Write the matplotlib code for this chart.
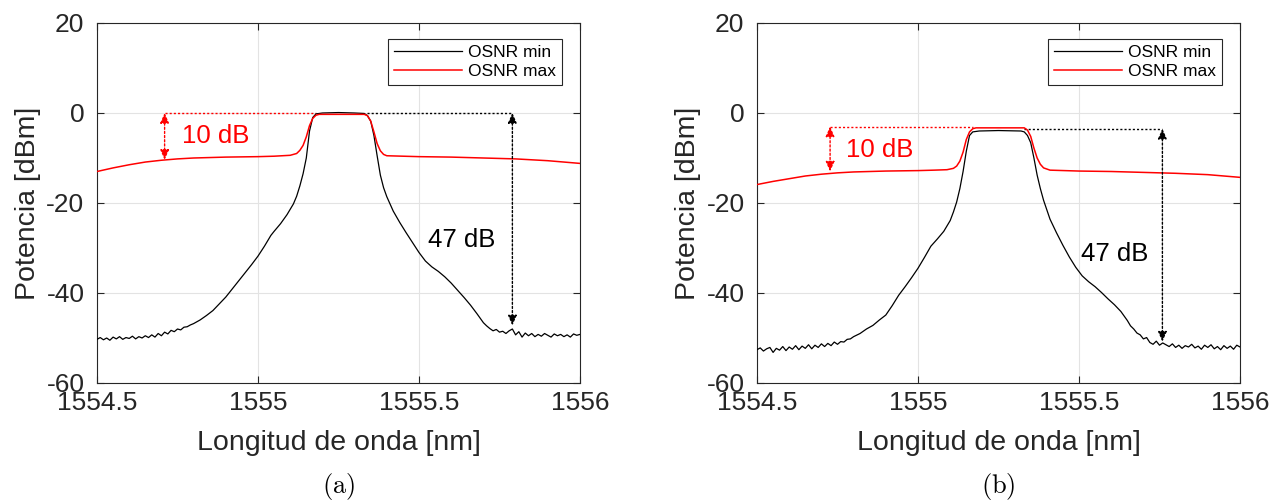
import matplotlib
matplotlib.use("Agg")
import matplotlib.pyplot as plt

plt.rcParams['font.family'] = ['Liberation Sans', 'DejaVu Sans']
plt.rcParams['mathtext.fontset'] = 'cm'
plt.rcParams['axes.unicode_minus'] = False

# ---- panel (a): OSNR min (black) ----
wl_a_min = [1554.50, 1554.51, 1554.52, 1554.53, 1554.54, 1554.55, 1554.56, 1554.57, 1554.58, 1554.59,
            1554.60, 1554.61, 1554.62, 1554.63, 1554.64, 1554.65, 1554.66, 1554.67, 1554.68, 1554.69,
            1554.70, 1554.71, 1554.72, 1554.73, 1554.74, 1554.75, 1554.76, 1554.77, 1554.78, 1554.79,
            1554.80, 1554.82, 1554.84, 1554.86, 1554.88, 1554.90, 1554.92, 1554.94, 1554.96, 1554.98,
            1555.00, 1555.02, 1555.04, 1555.05, 1555.07, 1555.09, 1555.11, 1555.12, 1555.13, 1555.14,
            1555.15, 1555.16, 1555.17, 1555.18, 1555.20, 1555.25, 1555.30, 1555.33, 1555.34, 1555.35,
            1555.36, 1555.37, 1555.38, 1555.39, 1555.40, 1555.42, 1555.44, 1555.46, 1555.48, 1555.50,
            1555.52, 1555.54, 1555.56, 1555.58, 1555.60, 1555.62, 1555.64, 1555.66, 1555.68, 1555.70,
            1555.71, 1555.72, 1555.73, 1555.74, 1555.75, 1555.76, 1555.77, 1555.78, 1555.79, 1555.80,
            1555.81, 1555.82, 1555.83, 1555.84, 1555.85, 1555.86, 1555.87, 1555.88, 1555.89, 1555.90,
            1555.91, 1555.92, 1555.93, 1555.94, 1555.95, 1555.96, 1555.97, 1555.98, 1555.99, 1556.00]
p_a_min = [-50.3, -49.9, -50.4, -50.0, -50.5, -49.8, -50.2, -49.7, -50.3, -49.9,
           -50.1, -49.6, -50.2, -49.7, -50.0, -49.5, -49.9, -49.3, -49.8, -49.0,
           -49.5, -48.7, -49.1, -48.3, -48.6, -48.0, -48.2, -47.6, -47.5, -47.1,
           -46.8, -46.0, -45.0, -43.9, -42.4, -40.9, -39.1, -37.3, -35.5, -33.7,
           -31.8, -29.6, -27.2, -26.3, -24.6, -22.6, -20.2, -18.5, -16.2, -13.5,
           -10.0, -4.0, -1.0, -0.2, 0.0, 0.1, 0.0, -0.1, -0.6, -1.8,
           -5.0, -9.5, -13.8, -16.6, -18.6, -21.8, -24.3, -26.6, -28.8, -31.0,
           -32.9, -34.2, -35.2, -36.4, -37.8, -39.4, -41.0, -42.7, -44.6, -46.6,
           -47.3, -47.9, -48.4, -48.1, -48.7, -48.5, -49.0, -48.4, -48.0, -49.3,
           -48.6, -49.8, -48.9, -49.5, -49.0, -49.7, -49.2, -49.6, -49.0, -49.4,
           -49.8, -49.1, -49.5, -49.2, -49.7, -49.3, -49.8, -49.1, -49.4, -49.2]

# ---- panel (a): OSNR max (red) ----
wl_a_max = [1554.50, 1554.55, 1554.60, 1554.65, 1554.70, 1554.75, 1554.80, 1554.90, 1555.00, 1555.05,
            1555.10, 1555.12, 1555.13, 1555.14, 1555.15, 1555.16, 1555.17, 1555.18, 1555.19, 1555.33,
            1555.34, 1555.35, 1555.36, 1555.37, 1555.38, 1555.39, 1555.40, 1555.45, 1555.50, 1555.60,
            1555.70, 1555.80, 1555.90, 1556.00]
p_a_max = [-13.0, -12.2, -11.5, -10.9, -10.5, -10.2, -10.0, -9.8, -9.7, -9.6,
           -9.4, -9.0, -8.3, -7.2, -5.3, -2.8, -1.2, -0.5, -0.3, -0.3,
           -0.6, -1.8, -4.2, -6.8, -8.4, -9.2, -9.5, -9.6, -9.7, -9.8,
           -10.0, -10.2, -10.6, -11.2]

# ---- panel (b): OSNR min (black) ----
wl_b_min = [1554.50, 1554.51, 1554.52, 1554.53, 1554.54, 1554.55, 1554.56, 1554.57, 1554.58, 1554.59,
            1554.60, 1554.61, 1554.62, 1554.63, 1554.64, 1554.65, 1554.66, 1554.67, 1554.68, 1554.69,
            1554.70, 1554.71, 1554.72, 1554.73, 1554.74, 1554.75, 1554.76, 1554.77, 1554.78, 1554.79,
            1554.80, 1554.82, 1554.84, 1554.86, 1554.88, 1554.90, 1554.92, 1554.94, 1554.96, 1554.98,
            1555.00, 1555.02, 1555.04, 1555.06, 1555.08, 1555.10, 1555.11, 1555.12, 1555.13, 1555.14,
            1555.15, 1555.16, 1555.17, 1555.19, 1555.25, 1555.32, 1555.33, 1555.34, 1555.35, 1555.36,
            1555.37, 1555.38, 1555.39, 1555.41, 1555.43, 1555.45, 1555.47, 1555.49, 1555.51, 1555.53,
            1555.55, 1555.57, 1555.59, 1555.61, 1555.63, 1555.65, 1555.66, 1555.67, 1555.68, 1555.69,
            1555.70, 1555.71, 1555.72, 1555.73, 1555.74, 1555.75, 1555.76, 1555.77, 1555.78, 1555.79,
            1555.80, 1555.81, 1555.82, 1555.83, 1555.84, 1555.85, 1555.86, 1555.87, 1555.88, 1555.89,
            1555.90, 1555.91, 1555.92, 1555.93, 1555.94, 1555.95, 1555.96, 1555.97, 1555.98, 1555.99,
            1556.00]
p_b_min = [-52.6, -52.2, -52.9, -52.4, -52.1, -53.2, -52.3, -52.7, -51.9, -52.8,
           -52.0, -52.5, -51.7, -52.6, -51.8, -52.3, -51.5, -52.4, -51.6, -52.1,
           -51.3, -51.9, -51.2, -51.7, -50.9, -51.4, -50.8, -50.9, -50.3, -50.2,
           -49.7, -49.0, -48.0, -47.2, -46.0, -44.9, -42.8, -40.5, -38.6, -36.6,
           -34.5, -32.1, -29.6, -28.0, -26.3, -23.9, -22.0, -19.8, -16.8, -13.0,
           -8.5, -5.0, -4.2, -4.0, -3.9, -4.0, -4.2, -5.0, -6.6, -10.0,
           -13.8, -16.8, -19.4, -23.6, -26.6, -29.4, -32.0, -34.3, -36.2, -37.5,
           -38.6, -39.9, -41.3, -42.6, -44.1, -46.1, -47.3, -48.0, -48.9, -49.3,
           -50.2, -49.9, -51.0, -51.4, -50.7, -51.6, -51.1, -51.5, -51.9, -51.3,
           -52.1, -51.6, -52.3, -51.7, -52.0, -51.4, -52.2, -51.8, -52.5, -51.6,
           -52.1, -51.5, -52.4, -51.9, -52.6, -51.7, -52.3, -51.8, -52.5, -51.6,
           -52.0]

# ---- panel (b): OSNR max (red) ----
wl_b_max = [1554.50, 1554.55, 1554.60, 1554.65, 1554.70, 1554.75, 1554.80, 1554.90, 1555.00, 1555.05,
            1555.09, 1555.11, 1555.12, 1555.13, 1555.14, 1555.15, 1555.16, 1555.17, 1555.18, 1555.33,
            1555.34, 1555.35, 1555.36, 1555.37, 1555.38, 1555.39, 1555.41, 1555.50, 1555.60, 1555.70,
            1555.80, 1555.90, 1556.00]
p_b_max = [-15.9, -15.2, -14.6, -14.0, -13.6, -13.3, -13.1, -12.9, -12.8, -12.7,
           -12.6, -12.3, -11.8, -10.7, -8.7, -5.9, -4.2, -3.5, -3.3, -3.3,
           -3.8, -5.2, -7.8, -10.0, -11.4, -12.2, -12.7, -12.9, -13.0, -13.2,
           -13.4, -13.7, -14.3]

# annotation levels: [x red arrow, red line end, top level, red bottom, black line start, x black arrow, black bottom]
ann_a = [1554.71, 1555.18, 0.0, -10.4, 1555.34, 1555.79, -47.2]
ann_b = [1554.727, 1555.17, -3.0, -13.0, 1555.33, 1555.759, -50.8]
ann_b_black_top = -3.5
text_a = [(1554.763, -5.2), (1555.527, -28.2)]
text_b = [(1554.776, -8.2), (1555.506, -31.3)]

xticks = [1554.5, 1555, 1555.5, 1556]
xtick_labels = ['1554.5', '1555', '1555.5', '1556']
yticks = [-60, -40, -20, 0, 20]

W, H = 1276, 503
fig = plt.figure(figsize=(W / 100, H / 100), dpi=100)
ax_a = fig.add_axes([97 / W, 1 - 383 / H, 483 / W, 360 / H])
ax_b = fig.add_axes([757 / W, 1 - 383 / H, 483 / W, 360 / H])

dark = '#262626'


def dbl_arrow(ax, x, y0, y1, color):
    ax.annotate('', xy=(x, y1), xytext=(x, y0),
                arrowprops=dict(arrowstyle='<|-|>,head_length=0.5,head_width=0.22',
                                color=color, lw=1.0, linestyle=(0, (1.5, 1.5)),
                                mutation_scale=12, shrinkA=0, shrinkB=0))


def draw_panel(ax, wmin, pmin, wmax, pmax, ann, btop, texts, caption):
    ax.plot(wmin, pmin, color='black', lw=0.9, label='OSNR min', zorder=3)
    ax.plot(wmax, pmax, color='#ff0000', lw=1.1, label='OSNR max', zorder=3)

    xr, xr_end, top, rbot, xb_start, xb, bbot = ann
    ax.plot([xr, xr_end], [top, top], color='#ff0000', ls=(0, (1.5, 1.5)), lw=1.0)
    dbl_arrow(ax, xr, top, rbot, '#ff0000')
    ax.plot([xb_start, xb], [btop, btop], color='black', ls=(0, (1.5, 1.5)), lw=1.0)
    dbl_arrow(ax, xb, btop, bbot, 'black')
    ax.text(texts[0][0], texts[0][1], '10 dB', color='#ff0000', fontsize=18.5,
            ha='left', va='center')
    ax.text(texts[1][0], texts[1][1], '47 dB', color='black', fontsize=18.5,
            ha='left', va='center')

    ax.set_xlim(1554.5, 1556)
    ax.set_ylim(-60, 20)
    ax.set_xticks(xticks)
    ax.set_xticklabels(xtick_labels)
    ax.set_yticks(yticks)
    ax.grid(True, color='#e3e3e3', lw=0.8)
    ax.set_axisbelow(True)
    ax.tick_params(direction='in', length=5, width=0.8, colors=dark, labelsize=19,
                   top=True, right=True)
    ax.tick_params(axis='x', pad=6)
    ax.tick_params(axis='y', pad=9)
    for s in ax.spines.values():
        s.set_color(dark)
        s.set_linewidth(0.8)

    ax.set_xlabel('Longitud de onda [nm]', fontsize=20.5, color=dark)
    ax.set_ylabel('Potencia [dBm]', fontsize=20.5, color=dark)
    ax.xaxis.set_label_coords(0.5, -0.13)
    ax.yaxis.set_label_coords(-0.115, 0.5)

    leg = ax.legend(loc='upper right', bbox_to_anchor=(0.9627, 0.9556), borderaxespad=0,
                    fontsize=12.5, frameon=True, fancybox=False, handlelength=3.9,
                    handletextpad=0.35, borderpad=0.35, labelspacing=0.2)
    leg.get_frame().set_edgecolor(dark)
    leg.get_frame().set_linewidth(0.8)
    leg.get_frame().set_alpha(1)

    bb = ax.get_position()
    fig.text(bb.x0 + bb.width / 2, 1 - 487 / H, caption,
             fontsize=19, ha='center', va='center')


draw_panel(ax_a, wl_a_min, p_a_min, wl_a_max, p_a_max, ann_a, ann_a[2], text_a, r'$\mathrm{(a)}$')
draw_panel(ax_b, wl_b_min, p_b_min, wl_b_max, p_b_max, ann_b, ann_b_black_top, text_b, r'$\mathrm{(b)}$')

fig.savefig('out.png', dpi=100)
